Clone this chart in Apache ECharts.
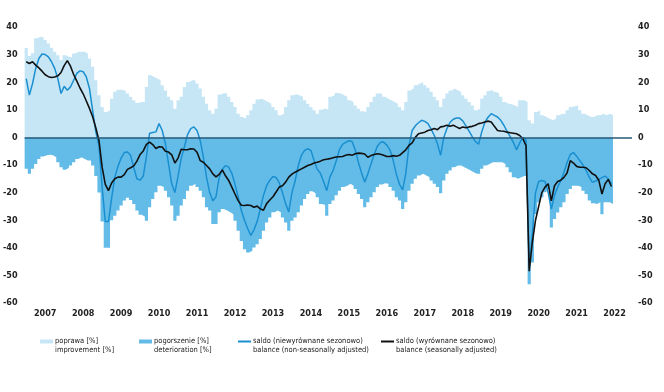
<!DOCTYPE html>
<html>
<head>
<meta charset="utf-8">
<script src="https://cdn.jsdelivr.net/npm/echarts@6/dist/echarts.min.js"></script>
<style>
html,body{margin:0;padding:0;background:#fff;}
#chart{width:664px;height:392px;}
</style>
</head>
<body>
<div id="chart"></div>
<script>
// ---- data (monthly, Jan 2007 - Jun 2022) ----
const years = [2007,2008,2009,2010,2011,2012,2013,2014,2015,2016,2017,2018,2019,2020,2021,2022];
const yTicks = [-60,-50,-40,-30,-20,-10,0,10,20,30,40];

const improvement = [
32.4,29.5,30.5,35.9,36.5,36.2,35.3,34,32.5,31,29.8,28,
29.8,29.2,29,30.4,31,31,31,30.4,28.6,25.6,20.7,15.3,
11,9.2,9.8,14,16.5,17.3,17.3,16.8,15.9,14.7,13.5,12.5,
12.8,12.8,18.3,22.5,21.9,21.3,20.7,18.9,17,14.7,13.5,10.4,
13.5,14.7,18.3,20.1,20.7,20.7,19.5,17.7,14.7,12.2,9.8,8.6,
10.4,15.5,16,16,14.7,12.8,11,8.6,7.4,6.8,8,9.8,
12.2,13.7,14,13.5,12.8,12.2,11,9.8,8,8.6,11,13.5,
15.3,15.6,15.3,14.7,13.5,12.2,11,9.8,8.6,10,10.5,10,
14.7,15.3,16.1,15.9,15.3,14.7,13.5,12.8,11.6,10.4,9.5,9.2,
11,12.8,14.7,15.9,15.9,14.7,14,13.5,12.8,12.2,11,9.8,
12.8,17,17.7,18.9,19.5,20.1,18.9,18,16.5,14.7,13.5,11,
14,15.9,17,17.7,17,16.5,15.3,14,12.8,11.6,9.8,10.4,
14,15.3,16.8,17.3,16.5,15.9,14.7,12.8,12.2,12,11.6,11,
13.5,13.5,12.8,6.2,5,9.2,9.8,8,7.4,6.8,6.2,6.8,
8,8.6,8.6,9.8,11,11.3,11.6,9.8,8.6,8,7.4,7.4,
8,8,8.6,8,8.6,8
];

const deterioration = [
-11.4,-13.2,-11.4,-9.6,-7.8,-6.9,-6.5,-6.3,-6.5,-7.2,-9,-10.8,
-11.7,-11,-10.2,-9,-7.8,-7.2,-7.8,-8.4,-8.4,-10.2,-14,-20,
-30.5,-40,-40,-30,-28.4,-26.5,-24.7,-22.9,-21.9,-22.7,-24.1,-26.5,
-28,-28.7,-30.2,-25.3,-22.3,-19.9,-17.5,-18,-19.3,-21.7,-24.7,-30.2,
-28.4,-24.7,-22.3,-19.3,-17.5,-16.8,-18,-19.3,-21.7,-25.3,-26.5,-31.4,
-31.4,-27.1,-25.9,-26.5,-27.1,-27.8,-30.2,-33.8,-37.5,-40.5,-41.7,-41.1,
-39.9,-38.7,-36.8,-33.8,-30.8,-29,-27.1,-26.5,-27.1,-29,-30.8,-33.8,
-30.2,-29,-27.1,-24.7,-22.3,-20.5,-19.5,-20.2,-21.7,-24.1,-24.5,-28.4,
-24.1,-22.9,-21,-19.3,-18,-17.5,-16.8,-17.5,-18.7,-20.5,-22.3,-25.3,
-23.5,-21.7,-19.9,-18,-17.1,-16.6,-16.8,-18,-19.3,-21.7,-22.9,-25.9,
-23.5,-19.3,-16.8,-15,-13.8,-13.2,-13.8,-14.4,-15.6,-16.8,-18,-20.2,
-15.6,-13.2,-12,-10.8,-10.2,-10.2,-10.8,-11.4,-12,-12.6,-13.2,-13.2,
-11.4,-10.2,-9.6,-9,-9,-9,-9,-9.6,-10.8,-12.6,-14.4,-15,
-14.4,-14,-14,-53.2,-45.3,-27.8,-23.5,-21.7,-19.9,-18.7,-32.6,-29.6,
-27.2,-25.3,-23.5,-20.5,-18.7,-17.5,-17.5,-18,-19.3,-20.5,-22.9,-23.9,
-24.1,-23.5,-27.8,-23.5,-23.5,-24.1
];

const balanceNSA = [
21.3,15.3,19.5,25,28.6,30.2,30,29.2,27.4,25,21.3,15.9,
18.5,17.1,18.3,20.7,23.2,24.1,23.8,21.9,17.7,9.8,2,-3,
-18,-30.5,-30.5,-22,-14.5,-10.5,-7.5,-5.5,-5.3,-6.5,-11,-15,
-15.5,-14,-7,1.5,1.8,2,5,2.5,-2.3,-9.6,-16.8,-20,
-14,-7.5,-3.5,1,3.2,3.8,2.5,-1.1,-7.1,-14.4,-20,-23,
-21.5,-14.5,-11.5,-10.2,-10.8,-13,-17,-21.5,-26.5,-30,-33,-35.5,
-33.5,-30.5,-26,-21,-17.5,-15.5,-14.2,-14.5,-16.5,-20,-24,-27,
-20,-15.8,-10.2,-6.5,-4.7,-4.1,-4.7,-8.4,-11.5,-13,-16,-19.3,
-14.4,-12,-8.5,-4.5,-2.5,-1.8,-1.2,-1.5,-4.5,-9,-12.8,-16.2,
-13.2,-9.6,-6.2,-3.2,-1.8,-1.7,-2.8,-4.6,-8.3,-13.3,-17,-19,
-13,-3,2.5,4.2,5.3,6.2,5.8,5,3,0.7,-2.3,-6.5,
0,3.2,5.5,6.6,7,7,6,4.2,2.3,0.3,-1.5,-2.5,
2,5.5,7.3,8.6,8,7.4,6.2,4.4,2.2,0.3,-1.8,-4.5,
-2,0,-1,-47,-35,-20,-16,-15.6,-16,-20,-26,-21,
-18,-15.6,-12.6,-9,-6.2,-5.5,-6.8,-8.4,-10,-12,-14.5,-16.3,
-15.8,-15.2,-14.6,-14,-15,-16.8
];

const balanceSA = [
27.4,26.8,27.4,26.2,25.2,24,22.7,22,21.7,21.9,22.3,23.5,
26,27.8,25.8,22.8,20.4,17.9,15.8,13.2,10.5,7.5,3.5,-1.1,
-10.8,-17,-19.3,-16.5,-15,-14.4,-14.4,-13.5,-11.6,-11,-10.3,-8.6,
-6.2,-4.9,-2.5,-1.7,-2.6,-4,-3.4,-3.5,-5,-5.3,-6.3,-9.3,
-7.5,-4.3,-4.5,-4.5,-4.1,-4.2,-5.4,-8.4,-9,-10.2,-11.4,-13.2,
-14.3,-13.4,-11.8,-13.9,-15.6,-18,-20.5,-22.9,-24.6,-24.7,-24.5,-24.7,
-25.3,-24.9,-25.9,-26.4,-24,-22.7,-21.5,-19.8,-18,-17.5,-16.2,-14.4,
-13.3,-12.6,-12,-11.4,-10.8,-10.2,-9.8,-9.3,-9,-8.6,-8.1,-7.9,
-7.7,-7.4,-7.1,-7,-6.9,-6.5,-6.2,-6.5,-5.9,-5.7,-5.8,-6,
-7.2,-6.6,-6.2,-5.9,-6.1,-6.5,-6.9,-6.9,-6.6,-6.8,-6.5,-5.5,
-4.5,-2.9,-2,0,1.3,1.6,1.9,2.5,2.8,3.2,2.8,3.8,
4,4.4,4,4.4,3.8,3.2,3.8,3.5,3.8,4,4.4,5,
5.2,5.6,5.9,5.6,4,2.5,2.3,2.2,1.9,1.7,1.5,1.3,
0.7,-0.5,-3,-48.5,-38,-30,-25,-20,-18,-16.8,-23,-17.5,
-16,-15.5,-14.5,-12.8,-8.4,-9.3,-10.5,-10.8,-10.8,-11,-12,-13.2,
-13.8,-15.5,-20.5,-16.8,-15.2,-17.8
];

const seriesNames = ['poprawa [%]', 'pogorszenie [%]', 'saldo (niewyrównane sezonowo)', 'saldo (wyrównane sezonowo)'];
const seriesNamesEn = ['improvement [%]', 'deterioration [%]', 'balance (non-seasonally adjusted)', 'balance (seasonally adjusted)'];

// ---- build categories ----
const categories = [];
years.forEach(y => { for (let m = 1; m <= 12; m++) categories.push(y + '-' + (m < 10 ? '0' + m : m)); });
// month edges (one more than months) for the stepped monthly columns
const edges = [];
for (let k = 0; k <= categories.length; k++) edges.push('e' + k);
// stepped columns: value of month i spans edge i .. edge i+1 (step 'start')
const toSteps = arr => [arr[0]].concat(arr);

const C_IMP = '#c6e6f6', C_DET = '#63bce8', C_NSA = '#1a8fd0', C_SA = '#111111', C_ZERO = '#2a5a78';
const FONT = "'Liberation Sans Narrow','DejaVu Sans Condensed',sans-serif";
const LEG_FS = 7.5;
const legendLefts = [40, 139, 238, 381];

const chart = echarts.init(document.getElementById('chart'), null, {renderer: 'canvas'});

function legendCfg(k) {
  return {
    data: [seriesNames[k]], left: legendLefts[k], top: 337, orient: 'horizontal', padding: 0,
    itemWidth: 13, itemHeight: k >= 2 ? 2 : 4,
    selectedMode: false, icon: 'rect',
    textStyle: {fontFamily: FONT, fontSize: LEG_FS, lineHeight: 9, color: '#222', padding: [0, 0, 0, -3]}
  };
}

function stepArea(k, arr, color) {
  return {
    name: seriesNames[k], type: 'line', xAxisIndex: 1, data: toSteps(arr), step: 'start',
    showSymbol: false, symbol: 'none', silent: true,
    lineStyle: {width: 0, color: color}, itemStyle: {color: color},
    areaStyle: {color: color, opacity: 1, origin: 0}, z: 1
  };
}

const sDet = stepArea(1, deterioration, C_DET);
sDet.markLine = {
  silent: true, symbol: ['none', 'none'], label: {show: false},
  lineStyle: {color: C_ZERO, width: 1.5, type: 'solid'},
  data: [{yAxis: 0}]
};

chart.setOption({
  animation: false,
  backgroundColor: '#fff',
  grid: {left: 22, right: 32, top: 27, bottom: 89, containLabel: false},
  legend: [0, 1, 2, 3].map(legendCfg),
  graphic: [0, 1, 2, 3].map(k => ({
    type: 'text', left: legendLefts[k] + 15, top: 346, silent: true,
    style: {text: seriesNamesEn[k], fontFamily: FONT, fontSize: LEG_FS, fill: '#222'}
  })),
  xAxis: [{
    type: 'category', data: categories, boundaryGap: true,
    axisLine: {show: false}, axisTick: {show: false}, splitLine: {show: false},
    axisLabel: {
      interval: (idx) => idx % 12 === 6,
      formatter: (v) => v.slice(0, 4),
      fontFamily: FONT, fontSize: 9, fontWeight: 'bold', color: '#222', margin: 6
    }
  }, {
    type: 'category', data: edges, boundaryGap: false, show: false
  }],
  yAxis: [0, 1].map(k => ({
    type: 'value', min: yTicks[0], max: yTicks[yTicks.length - 1], interval: 10,
    position: k === 0 ? 'left' : 'right',
    axisLine: {show: false}, axisTick: {show: false}, splitLine: {show: false},
    axisLabel: {fontFamily: FONT, fontSize: 9, fontWeight: 'bold', color: '#222', margin: k === 0 ? 7 : 6}
  })),
  series: [
    stepArea(0, improvement, C_IMP),
    sDet,
    {
      name: seriesNames[2], type: 'line', data: balanceNSA, showSymbol: false, symbol: 'none',
      lineStyle: {color: C_NSA, width: 1.5}, itemStyle: {color: C_NSA}, z: 3
    },
    {
      name: seriesNames[3], type: 'line', data: balanceSA, showSymbol: false, symbol: 'none',
      lineStyle: {color: C_SA, width: 1.6}, itemStyle: {color: C_SA}, z: 4
    }
  ]
});
</script>
</body>
</html>
